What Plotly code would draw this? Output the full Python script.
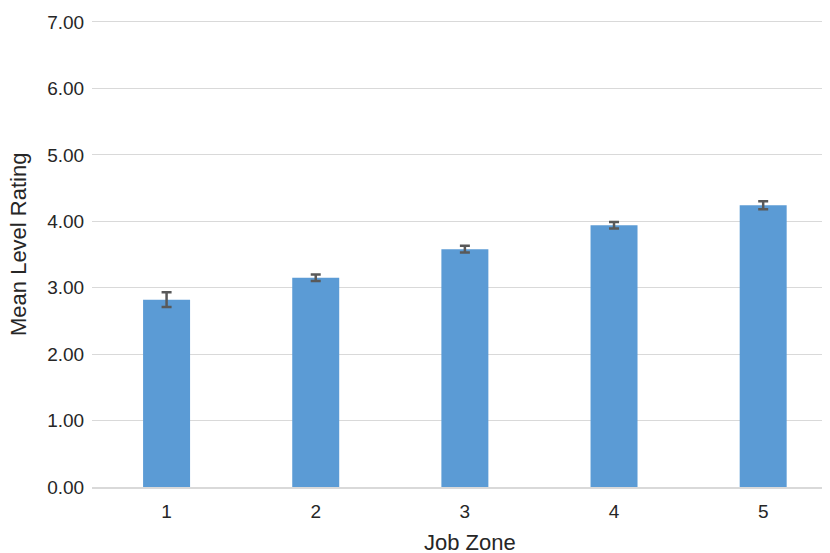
import plotly.graph_objects as go

job_zones = [1, 2, 3, 4, 5]
tick_labels = ["1", "2", "3", "4", "5"]
mean_ratings = [2.82, 3.15, 3.58, 3.94, 4.24]
error_margins = [0.11, 0.05, 0.05, 0.05, 0.06]
y_ticks = [0, 1, 2, 3, 4, 5, 6, 7]
y_tick_labels = ["0.00", "1.00", "2.00", "3.00", "4.00", "5.00", "6.00", "7.00"]
x_title = "Job Zone"
y_title = "Mean Level Rating"

FONT = "Liberation Sans, Arial, Helvetica, sans-serif"
TXT = "#262626"

# page body has an 8px margin, so the figure is sized to fit the window
W, H = 822, 545
L, R, T, B = 84, 0, 12, 66
PW, PH = W - L - R, H - T - B

fig = go.Figure(
    go.Bar(
        x=job_zones,
        y=mean_ratings,
        width=0.315,
        marker=dict(color="#5B9BD5", line=dict(width=0)),
        error_y=dict(
            type="data",
            array=error_margins,
            visible=True,
            color="#595959",
            thickness=2.5,
            width=5,
        ),
    )
)

fig.update_layout(
    width=W,
    height=H,
    margin=dict(l=L, r=R, t=T, b=B, pad=0),
    plot_bgcolor="white",
    paper_bgcolor="white",
    showlegend=False,
    font=dict(family=FONT, size=19, color=TXT),
    xaxis=dict(
        range=[0.5, 5.448],
        automargin=False,
        tickmode="array",
        tickvals=job_zones,
        ticktext=tick_labels,
        showgrid=False,
        zeroline=False,
        showline=True,
        linecolor="#d9d9d9",
        linewidth=1.5,
        ticks="outside",
        ticklen=6,
        tickcolor="rgba(0,0,0,0)",
        tickfont=dict(size=19, color=TXT),
    ),
    yaxis=dict(
        range=[0, 7.03],
        automargin=False,
        tickmode="array",
        tickvals=y_ticks,
        ticktext=y_tick_labels,
        showgrid=True,
        gridcolor="#d9d9d9",
        gridwidth=1.2,
        zeroline=False,
        showline=False,
        ticks="outside",
        ticklen=3,
        tickcolor="rgba(0,0,0,0)",
        tickfont=dict(size=19, color=TXT),
    ),
    annotations=[
        dict(text=x_title, xref="paper", yref="paper", x=(462 - L) / PW, y=-(534 - (T + PH)) / PH,
             xanchor="center", yanchor="middle", showarrow=False,
             font=dict(size=22, color=TXT, family=FONT)),
        dict(text=y_title, xref="paper", yref="paper", x=-(L - 10) / PW, y=((T + PH) - 237) / PH,
             xanchor="center", yanchor="middle", textangle=-90, showarrow=False,
             font=dict(size=22, color=TXT, family=FONT)),
    ],
)

fig.write_html("out.html")
